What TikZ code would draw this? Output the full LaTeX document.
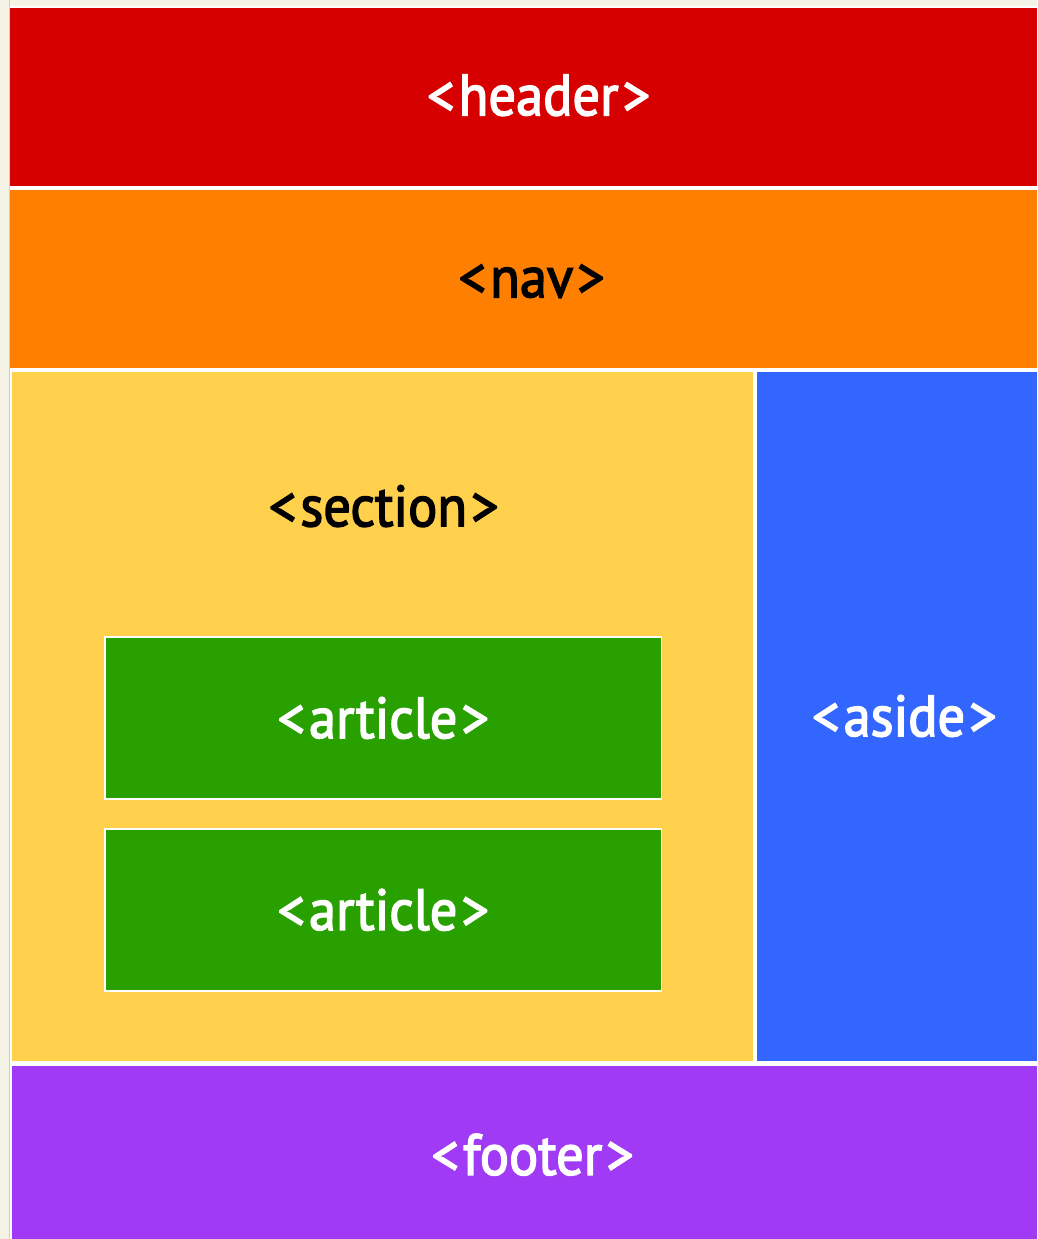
\documentclass[tikz,border=0pt]{standalone}
\usepackage{fontspec}
\setmainfont{PT Sans}[FakeStretch=0.94, FakeBold=2.5]
\definecolor{pagebg}{HTML}{F5F3E6}
\definecolor{headred}{HTML}{D70000}
\definecolor{navorange}{HTML}{FF8000}
\definecolor{sectyellow}{HTML}{FFD04C}
\definecolor{asideblue}{HTML}{3366FF}
\definecolor{artgreen}{HTML}{28A000}
\definecolor{footpurple}{HTML}{A03AF5}
\newcommand{\tagtext}[1]{<\kern4pt #1\kern4pt>}
\tikzset{
  block/.style={draw=white, line width=1.5pt, inner sep=0pt, outer sep=0pt},
  tag/.style={font=\fontsize{58}{62}\selectfont, inner sep=0pt},
}
\begin{document}
\begin{tikzpicture}[x=1pt, y=-1pt]
  % page
  \fill[pagebg] (0,0) rectangle (1038,1239);
  \draw[pagebg!85!black, line width=0.8pt] (9,0) -- (9,1239);
  % layout blocks
  \fill[white] (10,6) rectangle (1038,1239);
  \fill[headred]   (10,8)    rectangle (1038,186);
  \fill[navorange] (10,190)  rectangle (1038,368);
  \fill[sectyellow](12,372)  rectangle (753,1061);
  \fill[asideblue] (757,372) rectangle (1038,1061);
  \fill[footpurple](12,1066) rectangle (1038,1239);
  % articles inside the section
  \node[block, fill=artgreen, minimum width=557pt, minimum height=162pt, anchor=north west] (art1) at (105,637) {};
  \node[block, fill=artgreen, minimum width=557pt, minimum height=162pt, anchor=north west] (art2) at (105,829) {};
  % labels
  \node[tag, text=white] (header)  at (539,95)   {\tagtext{header}};
  \node[tag, text=black] (nav)     at (532,281)  {\tagtext{nav}};
  \node[tag, text=black] (section) at (384,506)  {\tagtext{section}};
  \node[tag, text=white] (lab1)    at (art1.center) {\tagtext{article}};
  \node[tag, text=white] (lab2)    at (art2.center) {\tagtext{article}};
  \node[tag, text=white] (aside)   at (905,716)  {\tagtext{aside}};
  \node[tag, text=white] (footer)  at (533,1155) {\tagtext{footer}};
\end{tikzpicture}
\end{document}
